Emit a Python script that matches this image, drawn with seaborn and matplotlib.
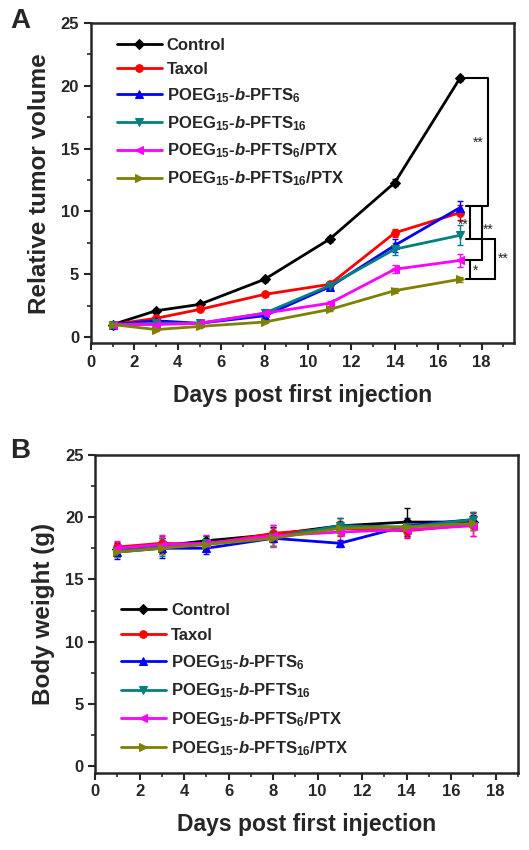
import numpy as np
import pandas as pd
import matplotlib
matplotlib.use("Agg")
import matplotlib.pyplot as plt
import seaborn as sns

# ---------------------------------------------------------
# DATA
# ---------------------------------------------------------

days = [1, 3, 5, 8, 11, 14, 17]

labels = [
    "Control",
    "Taxol",
    r"POEG$_{15}$-$\mathit{b}$-PFTS$_{6}$",
    r"POEG$_{15}$-$\mathit{b}$-PFTS$_{16}$",
    r"POEG$_{15}$-$\mathit{b}$-PFTS$_{6}$/PTX",
    r"POEG$_{15}$-$\mathit{b}$-PFTS$_{16}$/PTX",
]

# relative tumor volume (panel A)
vol_control = [1.0, 2.1, 2.6, 4.6, 7.8, 12.3, 20.6]
vol_taxol = [1.0, 1.5, 2.2, 3.4, 4.2, 8.3, 9.9]
vol_p6 = [1.0, 1.3, 1.1, 1.7, 4.0, 7.3, 10.3]
vol_p16 = [1.0, 1.1, 1.1, 1.9, 4.1, 7.0, 8.1]
vol_p6_ptx = [1.0, 1.0, 1.1, 1.9, 2.7, 5.4, 6.1]
vol_p16_ptx = [1.0, 0.6, 0.85, 1.2, 2.2, 3.7, 4.6]

vol_err_control = [0.1, 0.15, 0.15, 0.2, 0.2, 0.3, 0.2]
vol_err_taxol = [0.1, 0.1, 0.1, 0.15, 0.2, 0.3, 0.6]
vol_err_p6 = [0.1, 0.1, 0.1, 0.15, 0.2, 0.5, 0.5]
vol_err_p16 = [0.1, 0.1, 0.1, 0.15, 0.2, 0.5, 0.8]
vol_err_p6_ptx = [0.1, 0.1, 0.1, 0.15, 0.2, 0.3, 0.5]
vol_err_p16_ptx = [0.1, 0.1, 0.1, 0.1, 0.15, 0.2, 0.2]

# body weight (panel B)
bw_control = [17.4, 17.7, 18.1, 18.6, 19.3, 19.6, 19.6]
bw_taxol = [17.6, 17.9, 17.8, 18.7, 19.1, 18.9, 19.4]
bw_p6 = [17.2, 17.5, 17.5, 18.3, 17.9, 19.3, 19.8]
bw_p16 = [17.3, 17.6, 17.9, 18.4, 19.3, 19.2, 19.8]
bw_p6_ptx = [17.5, 17.8, 17.9, 18.5, 18.8, 19.0, 19.3]
bw_p16_ptx = [17.2, 17.5, 17.8, 18.3, 19.1, 19.2, 19.5]

bw_err_control = [0.5, 0.6, 0.4, 0.6, 0.6, 1.1, 0.6]
bw_err_taxol = [0.4, 0.6, 0.5, 0.7, 0.6, 0.6, 0.9]
bw_err_p6 = [0.6, 0.8, 0.5, 0.6, 0.3, 0.6, 0.6]
bw_err_p16 = [0.5, 0.7, 0.6, 0.7, 0.6, 0.6, 0.6]
bw_err_p6_ptx = [0.6, 0.8, 0.7, 0.9, 0.7, 0.6, 0.8]
bw_err_p16_ptx = [0.4, 0.5, 0.5, 0.6, 0.5, 0.5, 0.5]

vol_series = [vol_control, vol_taxol, vol_p6, vol_p16, vol_p6_ptx, vol_p16_ptx]
vol_errors = [vol_err_control, vol_err_taxol, vol_err_p6, vol_err_p16,
              vol_err_p6_ptx, vol_err_p16_ptx]
bw_series = [bw_control, bw_taxol, bw_p6, bw_p16, bw_p6_ptx, bw_p16_ptx]
bw_errors = [bw_err_control, bw_err_taxol, bw_err_p6, bw_err_p16,
             bw_err_p6_ptx, bw_err_p16_ptx]

colors = ["#000000", "#ff0000", "#0000ff", "#008080", "#ff00ff", "#808000"]
markers = ["D", "o", "^", "v", "<", ">"]

# ---------------------------------------------------------
# STYLE SETTINGS
# ---------------------------------------------------------

sns.set_style("ticks")

plt.rcParams["font.family"] = ["Liberation Sans", "DejaVu Sans"]
plt.rcParams["font.weight"] = "bold"
plt.rcParams["axes.labelweight"] = "bold"
plt.rcParams["mathtext.fontset"] = "custom"
plt.rcParams["mathtext.rm"] = "Liberation Sans:bold"
plt.rcParams["mathtext.it"] = "Liberation Sans:bold:italic"
plt.rcParams["mathtext.default"] = "rm"

fig = plt.figure(figsize=(5.29, 8.5), dpi=100)

ax_a = fig.add_axes([0.172, 0.596, 0.800, 0.377])
ax_b = fig.add_axes([0.180, 0.091, 0.799, 0.374])


def draw_panel(ax, series, errors, cap):
    for vals, errs, col, mk, lab in zip(series, errors, colors, markers, labels):
        ax.errorbar(days, vals, yerr=errs, fmt="none", ecolor=col,
                    elinewidth=1.0, capsize=cap, capthick=1.0, zorder=2)
        sns.lineplot(x=days, y=vals, ax=ax, color=col, marker=mk,
                     markersize=5.5, markeredgecolor=col, linewidth=2,
                     label=lab, zorder=3)


def style_axes(ax, xmax):
    ax.set_xlim(0, xmax)
    ax.set_ylim(-0.5, 25)
    ax.set_xticks(range(0, 19, 2))
    ax.set_yticks(range(0, 26, 5))
    ax.set_xticks(range(1, 20, 2), minor=True)
    ax.set_yticks(np.arange(2.5, 25, 5), minor=True)
    ax.tick_params(which="major", direction="out", length=5, width=1.5,
                   labelsize=12)
    ax.tick_params(which="minor", direction="out", length=3, width=1.2)
    for s in ax.spines.values():
        s.set_linewidth(1.8)
        s.set_visible(True)
    for t in ax.get_xticklabels() + ax.get_yticklabels():
        t.set_fontweight("bold")
    ax.set_xlabel("Days post first injection", fontsize=16.5,
                  fontweight="bold", labelpad=10)


# =========================================================
# A. RELATIVE TUMOR VOLUME
# =========================================================

draw_panel(ax_a, vol_series, vol_errors, 2)
style_axes(ax_a, 19.5)
ax_a.set_ylabel("Relative tumor volume", fontsize=17.5, fontweight="bold",
                labelpad=7)

ax_a.legend(loc="upper left", bbox_to_anchor=(0.045, 0.975),
            frameon=False, fontsize=12, handlelength=2.7,
            handletextpad=0.3, labelspacing=0.55, borderaxespad=0)

# significance brackets, built from the day-17 values
end_c = vol_control[-1]
end_p6 = vol_p6[-1] + 0.1
end_p16 = vol_p16[-1] - 0.3
end_p6p = vol_p6_ptx[-1]
end_p16p = vol_p16_ptx[-1]

bk = dict(color="black", linewidth=1.5, zorder=4)
ax_a.plot([17.3, 18.3, 18.3, 17.3], [end_c, end_c, end_p6, end_p6], **bk)
ax_a.plot([17.45, 17.45], [end_p6, end_p16], **bk)
ax_a.plot([17.3, 18.6], [end_p16, end_p16], **bk)
ax_a.plot([18.0, 18.0], [end_p6, end_p6p], **bk)
ax_a.plot([17.3, 18.0], [end_p6p, end_p6p], **bk)
ax_a.plot([18.6, 18.6], [end_p16, end_p16p], **bk)
ax_a.plot([17.45, 17.45], [end_p6p, end_p16p], **bk)
ax_a.plot([17.3, 18.6], [end_p16p, end_p16p], **bk)

star = dict(fontsize=10, fontweight="normal", ha="center", va="center")
ax_a.text(17.85, (end_c + end_p6) / 2, "**", **star)
ax_a.text(17.15, (end_p6 + end_p16) / 2 - 0.2, "**", **star)
ax_a.text(18.3, (end_p6 + end_p6p) / 2 + 0.3, "**", **star)
ax_a.text(19.0, (end_p16 + end_p16p) / 2, "**", **star)
ax_a.text(17.7, (end_p6p + end_p16p) / 2 - 0.1, "*", **star)

fig.text(0.02, 0.99, "A", fontsize=20, fontweight="bold", va="top")

# =========================================================
# B. BODY WEIGHT
# =========================================================

draw_panel(ax_b, bw_series, bw_errors, 2)
style_axes(ax_b, 18.5)
ax_b.set_ylabel("Body weight (g)", fontsize=17.5, fontweight="bold",
                labelpad=7)

ax_b.legend(loc="upper left", bbox_to_anchor=(0.045, 0.555),
            frameon=False, fontsize=12, handlelength=2.7,
            handletextpad=0.3, labelspacing=0.6, borderaxespad=0)

fig.text(0.02, 0.485, "B", fontsize=20, fontweight="bold", va="top")

plt.savefig("out.png", dpi=100)
